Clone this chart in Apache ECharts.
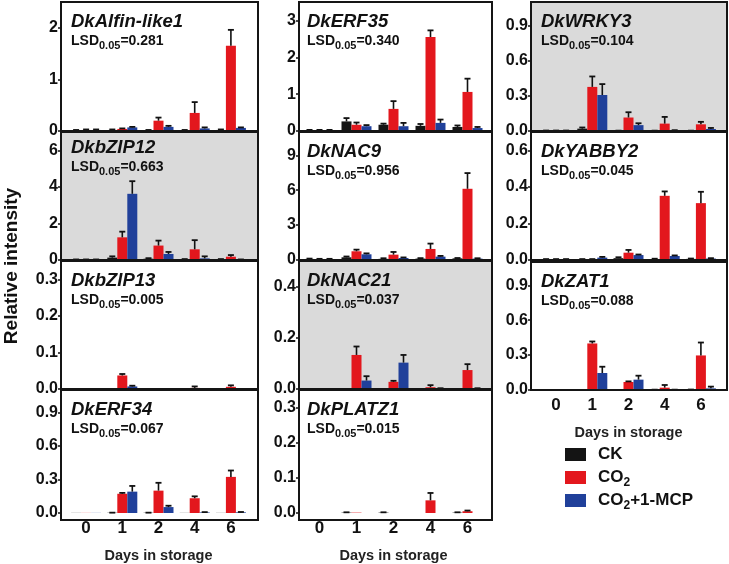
<!DOCTYPE html>
<html><head><meta charset="utf-8">
<script src="https://cdn.jsdelivr.net/npm/echarts@6/dist/echarts.min.js"></script>
<style>html,body{margin:0;padding:0;background:#fff}#c{width:729px;height:564px}</style>
</head><body><div id="c"></div>
<script>
const days = ['0', '1', '2', '4', '6'];
const treatments = ['CK', 'CO2', 'CO2+1-MCP'];

// means: [CK, CO2, CO2+1-MCP] ; errors (upper SE) in the same order
const alfinMean = [[0.01,0.02,0.01,0.01,0.02],[0.02,0.04,0.20,0.35,1.65],[0.02,0.07,0.08,0.05,0.06]];
const alfinErr  = [[0.01,0.01,0.01,0.01,0.01],[0.01,0.01,0.06,0.21,0.31],[0.01,0.01,0.02,0.02,0.01]];
const erf35Mean = [[0.02,0.26,0.17,0.14,0.11],[0.02,0.17,0.60,2.55,1.06],[0.02,0.13,0.13,0.22,0.08]];
const erf35Err  = [[0.01,0.09,0.03,0.05,0.04],[0.01,0.06,0.21,0.18,0.36],[0.01,0.03,0.09,0.09,0.03]];
const wrky3Mean = [[0.003,0.02,0.002,0.002,0.002],[0.003,0.376,0.115,0.063,0.057],[0.003,0.307,0.05,0.005,0.017]];
const wrky3Err  = [[0.001,0.01,0.001,0.001,0.001],[0.001,0.089,0.045,0.057,0.021],[0.001,0.093,0.016,0.002,0.009]];
const bzip12Mean = [[0.02,0.13,0.07,0.03,0.03],[0.02,1.24,0.79,0.585,0.18],[0.02,3.62,0.33,0.09,0.02]];
const bzip12Err  = [[0.01,0.07,0.03,0.02,0.02],[0.01,0.31,0.27,0.50,0.09],[0.01,0.69,0.11,0.11,0.01]];
const nac9Mean = [[0.09,0.23,0.10,0.12,0.14],[0.08,0.75,0.46,0.95,6.12],[0.08,0.49,0.17,0.29,0.12]];
const nac9Err  = [[0.03,0.07,0.05,0.04,0.03],[0.02,0.14,0.23,0.46,1.35],[0.02,0.08,0.05,0.06,0.03]];
const yabby2Mean = [[0.003,0.003,0.01,0.005,0.006],[0.003,0.003,0.04,0.351,0.311],[0.003,0.013,0.027,0.022,0.008]];
const yabby2Err  = [[0.002,0.002,0.005,0.002,0.002],[0.002,0.002,0.015,0.024,0.062],[0.002,0.004,0.003,0.003,0.002]];
const bzip13Mean = [[0,0,0,0,0],[0,0.037,0,0.003,0.006],[0,0.007,0,0,0]];
const bzip13Err  = [[0,0,0,0,0],[0,0.004,0,0.004,0.004],[0,0.002,0,0,0]];
const nac21Mean = [[0,0,0,0,0],[0,0.133,0.028,0.007,0.074],[0,0.033,0.103,0.001,0.001]];
const nac21Err  = [[0,0,0,0,0],[0,0.033,0.004,0.008,0.023],[0,0.017,0.030,0.002,0.002]];
const zat1Mean = [[0,0,0,0.002,0.002],[0,0.40,0.069,0.02,0.297],[0,0.146,0.089,0.002,0.014]];
const zat1Err  = [[0,0,0,0.001,0.002],[0,0.017,0.005,0.023,0.111],[0,0.054,0.034,0.001,0.015]];
const erf34Mean = [[0.001,0.002,0.002,0.001,0.001],[0.001,0.172,0.20,0.132,0.323],[0.001,0.191,0.053,0.005,0.006]];
const erf34Err  = [[0,0.001,0.001,0,0],[0,0.008,0.07,0.017,0.057],[0,0.051,0.012,0.003,0.003]];
const platz1Mean = [[0,0.001,0.001,0,0.001],[0,0.001,0,0.036,0.005],[0,0,0,0,0]];
const platz1Err  = [[0,0.001,0.001,0,0.001],[0,0,0,0.021,0.002],[0,0,0,0,0]];

// gene label, LSD, data, axis max, tick interval, decimals
const genes = [
  {name:'DkAlfin-like1', lsd:'0.281', mean:alfinMean, err:alfinErr, max:2.5, step:1, dec:0},
  {name:'DkbZIP12', lsd:'0.663', mean:bzip12Mean, err:bzip12Err, max:7, step:2, dec:0},
  {name:'DkbZIP13', lsd:'0.005', mean:bzip13Mean, err:bzip13Err, max:0.35, step:0.1, dec:1},
  {name:'DkERF34', lsd:'0.067', mean:erf34Mean, err:erf34Err, max:1.1, step:0.3, dec:1},
  {name:'DkERF35', lsd:'0.340', mean:erf35Mean, err:erf35Err, max:3.5, step:1, dec:0},
  {name:'DkNAC9', lsd:'0.956', mean:nac9Mean, err:nac9Err, max:11, step:3, dec:0},
  {name:'DkNAC21', lsd:'0.037', mean:nac21Mean, err:nac21Err, max:0.5, step:0.2, dec:1},
  {name:'DkPLATZ1', lsd:'0.015', mean:platz1Mean, err:platz1Err, max:0.35, step:0.1, dec:1},
  {name:'DkWRKY3', lsd:'0.104', mean:wrky3Mean, err:wrky3Err, max:1.1, step:0.3, dec:1},
  {name:'DkYABBY2', lsd:'0.045', mean:yabby2Mean, err:yabby2Err, max:0.7, step:0.2, dec:1},
  {name:'DkZAT1', lsd:'0.088', mean:zat1Mean, err:zat1Err, max:1.1, step:0.3, dec:1}
];

// layout (px)
const colBox = [{x:61,w:197},{x:299,w:193},{x:531,w:196}];
const colGrid = [{left:68,width:181},{left:301,width:185},{left:538,width:181}];
const colTitleDx = [10,8,10];
const rows12 = [{top:2,h:129},{top:132,h:128},{top:261,h:128},{top:390,h:130}];
const rows3 = [{top:2,h:129},{top:132,h:128},{top:262,h:128}];
const layout = [
  {col:0,row:0},{col:0,row:1,gray:true,tdy:-4},{col:0,row:2},{col:0,row:3,bottom:true},
  {col:1,row:0},{col:1,row:1},{col:1,row:2,gray:true},{col:1,row:3,bottom:true},
  {col:2,row:0,gray:true},{col:2,row:1},{col:2,row:2,bottom:true}
];
const colors = ['#141414', '#e3171d', '#20409a'];
const FONT = 'Arial, "Liberation Sans", sans-serif';
const BW = 10;

const grids = [], xAxes = [], yAxes = [], series = [], graphics = [];
genes.forEach((g, i) => {
  const L = layout[i];
  const r = (L.col === 2 ? rows3 : rows12)[L.row];
  const cb = colBox[L.col], cg = colGrid[L.col];
  grids.push({left: cg.left, width: cg.width, top: r.top, height: r.h});
  xAxes.push({
    gridIndex: i, type: 'category', data: days,
    axisLine: {show: false}, axisTick: {show: false},
    axisLabel: {show: !!L.bottom, fontSize: 17, fontWeight: 'bold', color: '#111', margin: 7, fontFamily: FONT},
    name: L.bottom ? 'Days in storage' : '', nameLocation: 'middle', nameGap: 35,
    nameTextStyle: {fontSize: 14.5, fontWeight: 'bold', color: '#222', fontFamily: FONT}
  });
  yAxes.push({
    gridIndex: i, type: 'value', min: 0, max: g.max, interval: g.step,
    offset: cg.left - cb.x,
    axisLine: {show: false}, splitLine: {show: false},
    axisTick: {show: true, length: 3, lineStyle: {color: '#111', width: 1.5}},
    axisLabel: {fontSize: 16, fontWeight: 'bold', color: '#111', margin: 3, showMaxLabel: false,
      fontFamily: FONT, formatter: v => v.toFixed(g.dec)}
  });
  for (let k = 0; k < 3; k++) {
    series.push({
      type: 'bar', name: treatments[k], xAxisIndex: i, yAxisIndex: i,
      data: g.mean[k], barWidth: BW, barGap: '0%',
      itemStyle: {color: colors[k]}, z: 3
    });
  }
  const ed = [];
  for (let k = 0; k < 3; k++) for (let d = 0; d < days.length; d++) {
    if (g.err[k][d] > 0) ed.push([d, g.mean[k][d], g.err[k][d], k]);
  }
  series.push({
    type: 'custom', name: 'err' + i, xAxisIndex: i, yAxisIndex: i, data: ed, z: 5,
    renderItem: (params, api) => {
      const m = api.value(1), e = api.value(2), k = api.value(3);
      const b = api.coord([api.value(0), m]);
      const t = api.coord([api.value(0), m + e]);
      const x = b[0] + (k - 1) * BW;
      return {type: 'group', children: [
        {type: 'line', shape: {x1: x, y1: b[1], x2: x, y2: t[1]}, style: {stroke: '#111', lineWidth: 1.6}},
        {type: 'line', shape: {x1: x - 3, y1: t[1], x2: x + 3, y2: t[1]}, style: {stroke: '#111', lineWidth: 1.8}}
      ]};
    }
  });
  // panel background + frame
  graphics.push({type: 'rect', z: -10, silent: true,
    shape: {x: cb.x, y: r.top, width: cb.w, height: r.h},
    style: {fill: L.gray ? '#dadada' : '#ffffff'}});
  graphics.push({type: 'rect', z: 100, silent: true,
    shape: {x: cb.x, y: r.top, width: cb.w, height: r.h},
    style: {fill: 'none', stroke: '#151515', lineWidth: 2}});
  const tdy = L.tdy || 0;
  graphics.push({type: 'text', z: 101, silent: true,
    style: {x: cb.x + colTitleDx[L.col], y: r.top + 20 + tdy, text: g.name, verticalAlign: 'middle',
      font: 'italic bold 18.5px ' + FONT, fill: '#111'}});
  graphics.push({type: 'text', z: 101, silent: true,
    style: {x: cb.x + colTitleDx[L.col], y: r.top + 39 + tdy, verticalAlign: 'middle',
      text: '{b|LSD}{s|0.05}{b|=' + g.lsd + '}',
      rich: {
        b: {fontSize: 14, fontWeight: 'bold', fontFamily: FONT, fill: '#111'},
        s: {fontSize: 11, fontWeight: 'bold', fontFamily: FONT, fill: '#111', padding: [9, 0, 0, 0]}
      }}});
});

graphics.push({type: 'text', z: 101, silent: true, rotation: Math.PI / 2, x: 12, y: 266,
  style: {text: 'Relative intensity', align: 'center', verticalAlign: 'middle',
    font: 'bold 19px ' + FONT, fill: '#111'}});

const legendTops = [446, 469, 492];
const legends = treatments.map((t, k) => ({
  data: [t], left: 565, top: legendTops[k], orient: 'vertical', selectedMode: false,
  itemWidth: 21, itemHeight: 13, icon: 'rect', padding: 0, itemGap: 0,
  formatter: n => n.replace('CO2', 'CO{s|2}'),
  textStyle: {fontSize: 17, fontWeight: 'bold', color: '#111', fontFamily: FONT, padding: [0, 0, 0, 7],
    rich: {s: {fontSize: 12, fontWeight: 'bold', color: '#111', fontFamily: FONT, padding: [10, 0, 0, 0]}}}
}));

const chart = echarts.init(document.getElementById('c'), null, {renderer: 'canvas'});
chart.setOption({
  animation: false,
  backgroundColor: '#ffffff',
  grid: grids, xAxis: xAxes, yAxis: yAxes, series: series,
  legend: legends, graphic: graphics
});
</script></body></html>
